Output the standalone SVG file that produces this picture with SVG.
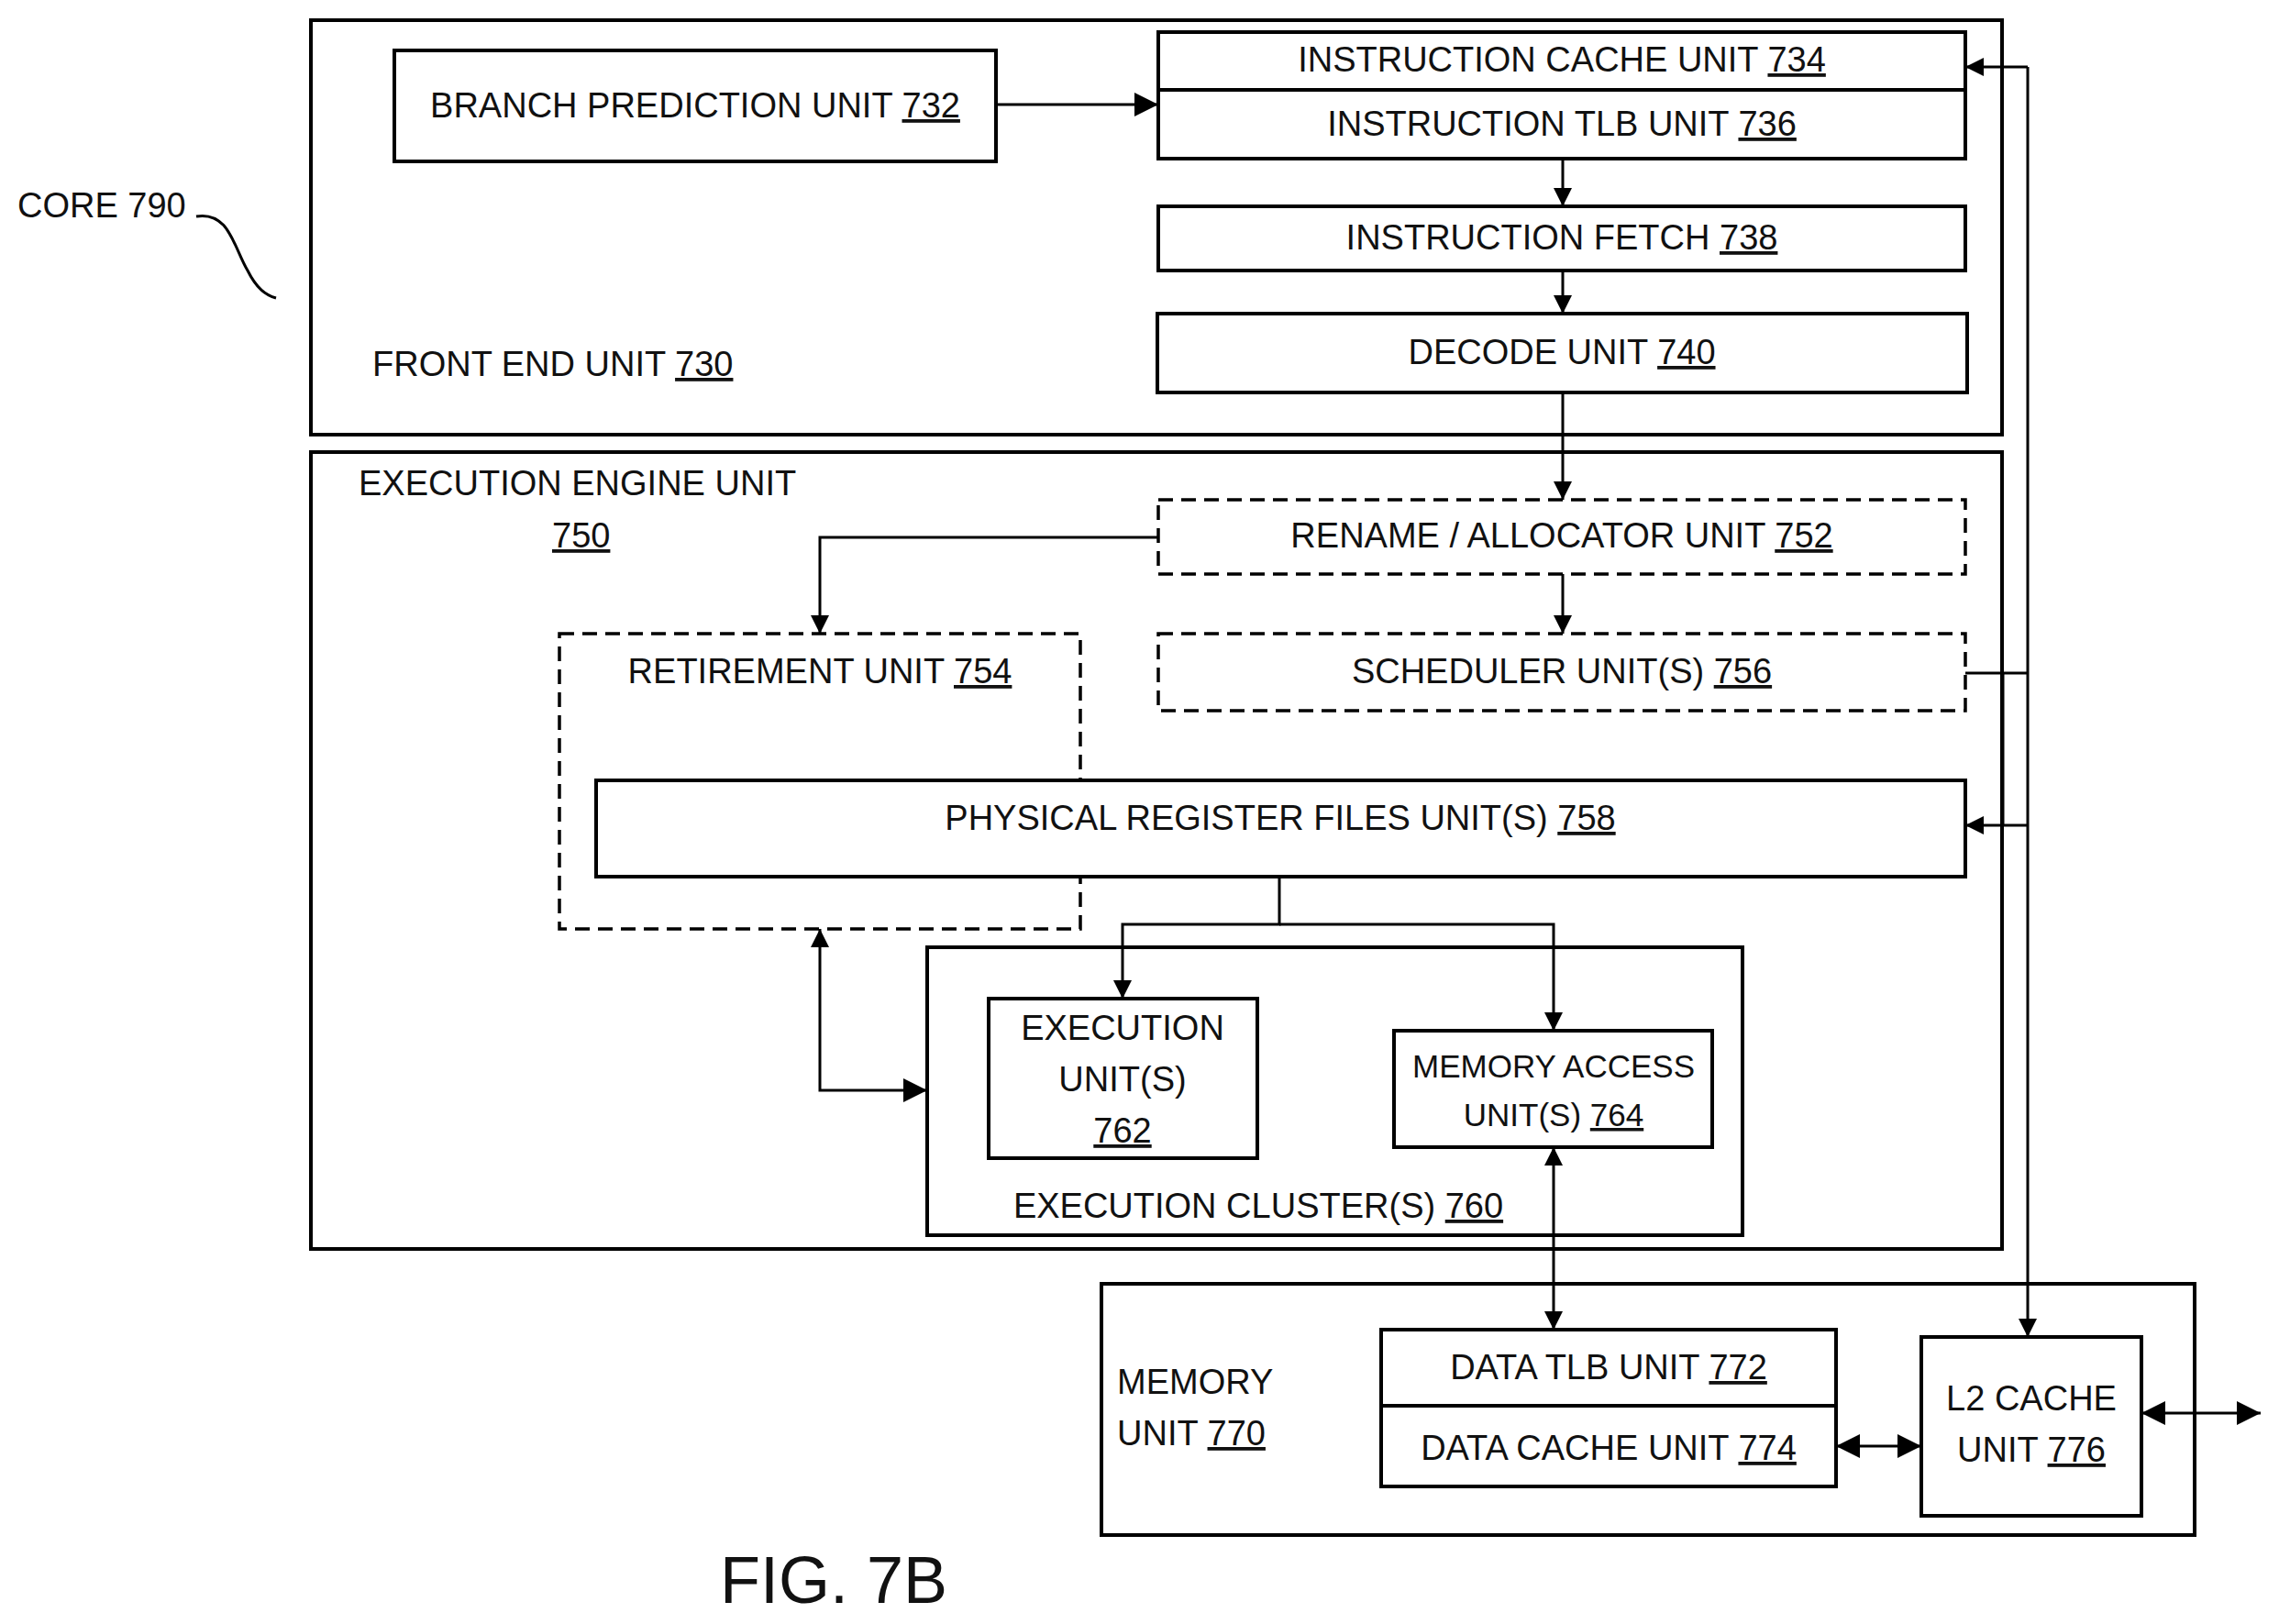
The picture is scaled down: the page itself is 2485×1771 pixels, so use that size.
<svg xmlns="http://www.w3.org/2000/svg" width="2485" height="1771" viewBox="0 0 2485 1771">
<defs>
<style>
text{font-family:"Liberation Sans",Arial,sans-serif;font-size:38px;fill:#111;}
.c{text-anchor:middle}
.u{text-decoration:underline}
.b{fill:#fff;stroke:#000;stroke-width:4}
.d{fill:#fff;stroke:#000;stroke-width:3.5;stroke-dasharray:16 9}
.l{fill:none;stroke:#000;stroke-width:3}
</style>
<marker id="a" viewBox="0 0 10 10" refX="10" refY="5" markerWidth="22" markerHeight="20" markerUnits="userSpaceOnUse" orient="auto-start-reverse"><path d="M0,0L10,5L0,10z" fill="#000"/></marker>
<marker id="A" viewBox="0 0 10 10" refX="10" refY="5" markerWidth="26" markerHeight="28" markerUnits="userSpaceOnUse" orient="auto-start-reverse"><path d="M0,0L10,5L0,10z" fill="#000"/></marker>
</defs>
<rect width="2485" height="1771" fill="#fff"/>
<g id="core"><text x="19" y="237">CORE 790</text><path class="l" d="M214,236C250,230 255,270 270,295C280,315 290,322 301,325"/></g>
<g id="frontend"><rect class="b" x="339" y="22" width="1844" height="452"/><text x="406" y="410">FRONT END UNIT <tspan class="u">730</tspan></text></g>
<g id="exec_engine"><rect class="b" x="339" y="493" width="1844" height="869"/><text x="391" y="540">EXECUTION ENGINE UNIT</text><text x="602" y="597" class="u">750</text></g>
<g id="bpu"><rect class="b" x="430" y="55" width="656" height="121"/><text class="c" x="758" y="128">BRANCH PREDICTION UNIT <tspan class="u">732</tspan></text></g>
<g id="icache"><rect class="b" x="1263" y="35" width="880" height="63"/><text class="c" x="1703" y="78">INSTRUCTION CACHE UNIT <tspan class="u">734</tspan></text></g>
<g id="itlb"><rect class="b" x="1263" y="98" width="880" height="75"/><text class="c" x="1703" y="148">INSTRUCTION TLB UNIT <tspan class="u">736</tspan></text></g>
<g id="fetch"><rect class="b" x="1263" y="225" width="880" height="70"/><text class="c" x="1703" y="272">INSTRUCTION FETCH <tspan class="u">738</tspan></text></g>
<g id="decode"><rect class="b" x="1262" y="342" width="883" height="86"/><text class="c" x="1703" y="397">DECODE UNIT <tspan class="u">740</tspan></text></g>
<g id="rename"><rect class="d" x="1263" y="545" width="880" height="81"/><text class="c" x="1703" y="597">RENAME / ALLOCATOR UNIT <tspan class="u">752</tspan></text></g>
<g id="retire"><rect class="d" x="610" y="691" width="568" height="322"/><text class="c" x="894" y="745">RETIREMENT UNIT <tspan class="u">754</tspan></text></g>
<g id="sched"><rect class="d" x="1263" y="691" width="880" height="84"/><text class="c" x="1703" y="745">SCHEDULER UNIT(S) <tspan class="u">756</tspan></text></g>
<g id="prf"><rect class="b" x="650" y="851" width="1493" height="105"/><text class="c" x="1396" y="905">PHYSICAL REGISTER FILES UNIT(S) <tspan class="u">758</tspan></text></g>
<g id="cluster"><rect class="b" x="1011" y="1033" width="889" height="314"/><text class="c" x="1372" y="1328">EXECUTION CLUSTER(S) <tspan class="u">760</tspan></text></g>
<g id="eu"><rect class="b" x="1078" y="1089" width="293" height="174"/><text class="c" x="1224" y="1134">EXECUTION</text><text class="c" x="1224" y="1190">UNIT(S)</text><text class="c u" x="1224" y="1246">762</text></g>
<g id="mau"><rect class="b" x="1520" y="1124" width="347" height="127"/><text class="c" x="1694" y="1175" style="font-size:35px">MEMORY ACCESS</text><text class="c" x="1694" y="1228" style="font-size:35px">UNIT(S) <tspan class="u">764</tspan></text></g>
<g id="memunit"><rect class="b" x="1201" y="1400" width="1192" height="274"/><text x="1218" y="1520">MEMORY</text><text x="1218" y="1576">UNIT <tspan class="u">770</tspan></text></g>
<g id="dtlb"><rect class="b" x="1506" y="1450" width="496" height="83"/><text class="c" x="1754" y="1504">DATA TLB UNIT <tspan class="u">772</tspan></text></g>
<g id="dcache"><rect class="b" x="1506" y="1533" width="496" height="88"/><text class="c" x="1754" y="1592">DATA CACHE UNIT <tspan class="u">774</tspan></text></g>
<g id="l2"><rect class="b" x="2095" y="1458" width="240" height="195"/><text class="c" x="2215" y="1538">L2 CACHE</text><text class="c" x="2215" y="1594">UNIT <tspan class="u">776</tspan></text></g>
<g id="connectors">
<path class="l" d="M1086,114H1263" marker-end="url(#A)"/>
<path class="l" d="M1704,173V225" marker-end="url(#a)"/>
<path class="l" d="M1704,295V342" marker-end="url(#a)"/>
<path class="l" d="M1704,428V545" marker-end="url(#a)"/>
<path class="l" d="M1263,586H894V691" marker-end="url(#a)"/>
<path class="l" d="M1704,626V691" marker-end="url(#a)"/>
<path class="l" d="M2143,734H2211"/>
<path class="l" d="M2184,734V900"/>
<path class="l" d="M2211,73V1458" marker-end="url(#a)"/>
<path class="l" d="M2211,73H2143" marker-end="url(#a)"/>
<path class="l" d="M2211,900H2143" marker-end="url(#a)"/>
<path class="l" d="M1395,956V1008H1224V1089" marker-end="url(#a)"/>
<path class="l" d="M1395,1008H1694V1124" marker-end="url(#a)"/>
<path class="l" d="M894,1013V1189H1011" marker-start="url(#a)" marker-end="url(#A)"/>
<path class="l" d="M1694,1251V1450" marker-start="url(#a)" marker-end="url(#a)"/>
<path class="l" d="M2002,1577H2095" marker-start="url(#A)" marker-end="url(#A)"/>
<path class="l" d="M2335,1541H2465" marker-start="url(#A)" marker-end="url(#A)"/>
</g>
<text x="785" y="1748" style="font-size:72px">FIG. 7B</text>
</svg>
